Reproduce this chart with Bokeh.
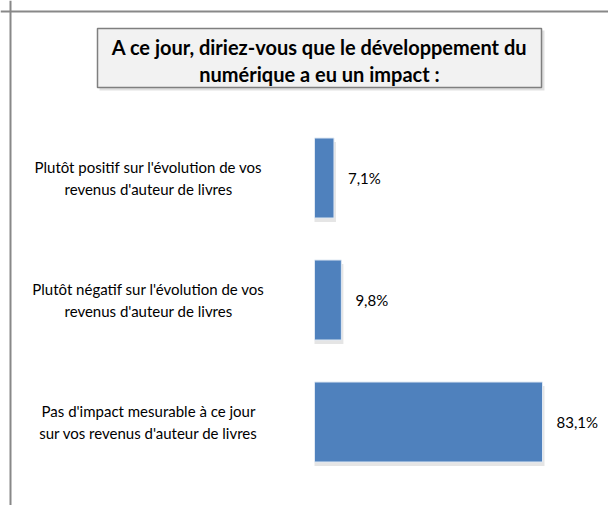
from bokeh.plotting import figure
from bokeh.models import Range1d, Span, ColumnDataSource
from bokeh.core.properties import value
from bokeh.embed import file_html
from bokeh.resources import INLINE

# ---- data ----
categories = [
    "Plutôt positif sur l'évolution de vos\nrevenus d'auteur de livres",
    "Plutôt négatif sur l'évolution de vos\nrevenus d'auteur de livres",
    "Pas d'impact mesurable à ce jour\nsur vos revenus d'auteur de livres",
]
values = [7.1, 9.8, 83.1]
value_labels = ["7,1%", "9,8%", "83,1%"]
title_lines = ["A ce jour, diriez-vous que le développement du",
               "numérique a eu un impact :"]

# ---- layout ----
W, H = 608, 505
PX_PER_PCT = 2.7437
BASE_X = 314.0
ROW = 122.0
FIRST_ROW_Y = 177.5

x0 = -BASE_X / PX_PER_PCT
x1 = (W - BASE_X) / PX_PER_PCT
ytop = -FIRST_ROW_Y / ROW
ybot = ytop + H / ROW


def dx(px):
    return x0 + px / PX_PER_PCT


def dy(py):
    return ytop + py / ROW


FONT = value("Lato")

p = figure(width=W, height=H, x_range=Range1d(x0, x1), y_range=Range1d(ybot, ytop),
           output_backend="svg", toolbar_location=None,
           x_axis_location=None, y_axis_location=None,
           min_border=0, min_border_left=0, min_border_right=0,
           min_border_top=0, min_border_bottom=0)
p.grid.visible = False
p.outline_line_color = None
p.background_fill_color = "white"
p.border_fill_color = "white"

idx = list(range(len(values)))
src = ColumnDataSource(dict(y=idx, v=values, cat=categories, lab=value_labels))

# outer border (clipped chart area)
p.add_layout(Span(location=dx(10), dimension="height", line_color="#888888", line_width=2))
p.add_layout(Span(location=dy(11), dimension="width", line_color="#888888", line_width=2))

# title box with shadow
p.quad(left=[dx(99)], right=[dx(544)], top=[dy(30)], bottom=[dy(90)],
       fill_color="#000000", fill_alpha=0.12, line_color=None)
p.quad(left=[dx(97)], right=[dx(541)], top=[dy(28)], bottom=[dy(87)],
       fill_color="#f2f2f2", line_color="#7f7f7f", line_width=1.5)
p.text(x=[dx(319)] * 2, y=[dy(46), dy(73)], text=title_lines,
       text_align="center", text_baseline="middle", text_font=FONT,
       text_font_style="bold", text_font_size="20px", text_color="#000000")

# bar shadows
shadow = ColumnDataSource(dict(y=[i + 4 / ROW for i in idx],
                               r=[v + 2 / PX_PER_PCT for v in values]))
p.hbar(y="y", left=0, right="r", height=80 / ROW, source=shadow,
       fill_color="#000000", fill_alpha=0.10, line_color=None)

# bars
p.hbar(y="y", left=0, right="v", height=80 / ROW, source=src,
       fill_color="#4f81bd", line_color="#dfe8f3", line_width=1)

# category labels
p.text(x=dx(148), y="y", text="cat", source=src,
       text_align="center", text_baseline="middle", text_font=FONT,
       text_font_size="15px", text_line_height=1.2, text_color="#000000")

# value labels
p.text(x="v", y="y", text="lab", source=src, x_offset=14,
       text_align="left", text_baseline="middle", text_font=FONT,
       text_font_size="15px", text_color="#000000")

open("out.html", "w").write(file_html(p, INLINE))
